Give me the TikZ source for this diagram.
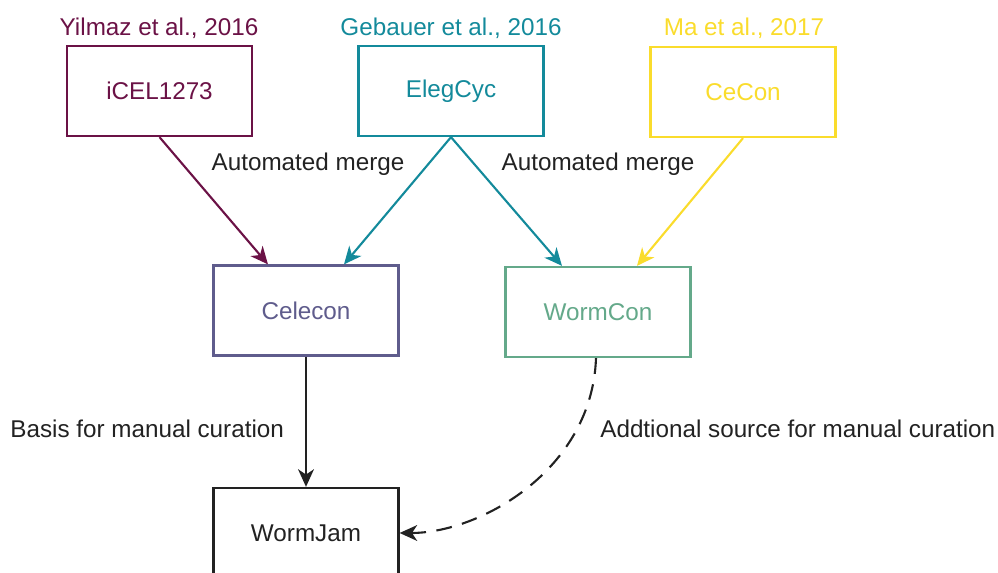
\documentclass[tikz,border=0pt]{standalone}
\usepackage{fontspec}
\setmainfont{Liberation Sans}
\usetikzlibrary{arrows.meta}

\definecolor{cmaroon}{HTML}{6B1246}
\definecolor{cteal}{HTML}{138A9B}
\definecolor{cyellow}{HTML}{FADC2C}
\definecolor{cslate}{HTML}{5F5C8C}
\definecolor{cgreen}{HTML}{64A98A}
\definecolor{cdark}{HTML}{222222}

\tikzset{
  model/.style={draw, line width=1.3pt, fill=white, minimum width=3.7cm,
    minimum height=1.8cm, inner sep=0pt, font=\fontsize{13.8}{16}\selectfont},
  caption/.style={inner sep=0pt, font=\fontsize{13.8}{16}\selectfont},
  link/.style={line width=1.2pt, -{Stealth[length=10pt, width=9pt, inset=3pt]}},
}

\begin{document}
\begin{tikzpicture}[x=0.02cm, y=-0.02cm]
  \useasboundingbox (0,0) rectangle (998,573);
  \clip (0,0) rectangle (998,573);

  % source reconstructions
  \node[model, draw=cmaroon, text=cmaroon] (icel) at (159.5,91) {iCEL1273};
  \node[model, draw=cteal, text=cteal] (elegcyc) at (451,91) {ElegCyc};
  \node[model, draw=cyellow, text=cyellow] (cecon) at (743,92) {CeCon};

  \node[caption, text=cmaroon] (ref1) at (159,28) {Yilmaz et al., 2016};
  \node[caption, text=cteal] (ref2) at (451,28) {Gebauer et al., 2016};
  \node[caption, text=cyellow] (ref3) at (744,28) {Ma et al., 2017};

  % merged consensus models
  \node[model, draw=cslate, text=cslate] (celecon) at (306,310.5) {Celecon};
  \node[model, draw=cgreen, text=cgreen] (wormcon) at (598,312) {WormCon};

  % curated model
  \node[model, draw=cdark, text=cdark] (wormjam) at (306,533) {WormJam};

  % merge arrows
  \draw[link, cmaroon] (icel.south) -- ([xshift=-38*0.02cm]celecon.north);
  \draw[link, cteal] (elegcyc.south) -- ([xshift=38*0.02cm]celecon.north);
  \draw[link, cteal] (elegcyc.south) -- ([xshift=-36*0.02cm]wormcon.north);
  \draw[link, cyellow] (cecon.south) -- ([xshift=39*0.02cm]wormcon.north);

  \node[caption, text=cdark] (merge1) at (308,164) {Automated merge};
  \node[caption, text=cdark] (merge2) at (598,164) {Automated merge};

  % curation arrows
  \draw[link, cdark] (celecon.south) -- (wormjam.north);
  \draw[link, cdark, dash pattern=on 9pt off 6pt]
    ([xshift=-2*0.02cm]wormcon.south) .. controls (592,470) and (480,533) .. (wormjam.east);

  \node[caption, text=cdark, anchor=west] (basis) at (10,429) {Basis for manual curation};
  \node[caption, text=cdark, anchor=west] (extra) at (600,429) {Addtional source for manual curation};
\end{tikzpicture}
\end{document}
